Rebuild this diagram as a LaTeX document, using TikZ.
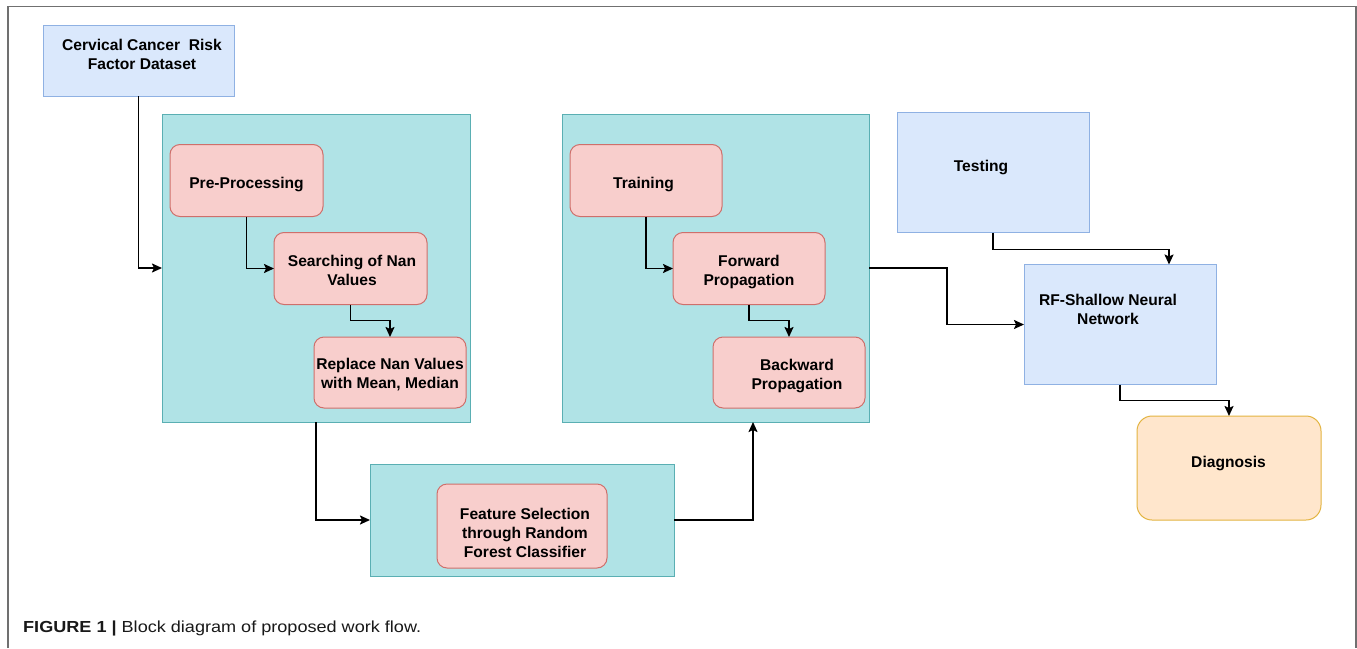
\documentclass[tikz,border=0pt]{standalone}
\usepackage{fontspec}
\setmainfont{Liberation Sans}
\newfontfamily\capfont[FakeStretch=1.13]{Liberation Sans}
\usetikzlibrary{arrows.meta}
\definecolor{bfill}{HTML}{DAE8FC}
\definecolor{bdraw}{HTML}{8FB1E3}
\definecolor{tfill}{HTML}{B0E3E6}
\definecolor{tdraw}{HTML}{5AAFB3}
\definecolor{pfill}{HTML}{F8CECC}
\definecolor{pdraw}{HTML}{CF6F6B}
\definecolor{ofill}{HTML}{FFE6CC}
\definecolor{odraw}{HTML}{E3B441}
\definecolor{framec}{HTML}{707070}
\begin{document}
\begin{tikzpicture}[x=1pt,y=-1pt,
  base/.style={inner sep=0pt, outer sep=0pt, line width=1pt, anchor=north west},
  bluebox/.style={base, draw=bdraw, fill=bfill},
  tealbox/.style={base, draw=tdraw, fill=tfill},
  pinkbox/.style={base, draw=pdraw, fill=pfill, rounded corners=10pt},
  orangebox/.style={base, draw=odraw, fill=ofill, rounded corners=15pt},
  lbl/.style={font=\bfseries\fontsize{15.6}{19}\selectfont, align=center, text=black, inner sep=0pt},
  conn/.style={draw=black, line width=1.8pt, -{Stealth[length=10pt,width=9pt,inset=2pt]}}
]
\useasboundingbox (0,0) rectangle (1357,648);
\fill[white] (0,0) rectangle (1357,648);
\draw[framec, line width=1.5pt] (8,648) -- (8,6.5) -- (1356,6.5) -- (1356,648);

% dataset
\node[bluebox, minimum width=191pt, minimum height=71pt] (data) at (43,25) {};
\node[lbl] (datat) at (142,54) {Cervical Cancer\ \ Risk\\Factor Dataset};

% block 1
\node[tealbox, minimum width=308pt, minimum height=308pt] (box1) at (162,114) {};
\node[pinkbox, minimum width=153pt, minimum height=72pt] (pre) at (170,144.5) {};
\node[lbl] (pret) at (246.5,184.5) {Pre-Processing};
\node[pinkbox, minimum width=153pt, minimum height=72pt] (search) at (274,232.5) {};
\node[lbl] (searcht) at (352,270) {Searching of Nan\\Values};
\node[pinkbox, minimum width=152pt, minimum height=71pt] (replace) at (314,337) {};
\node[lbl] (replacet) at (390,374.5) {Replace Nan Values\\with Mean, Median};

% block 2
\node[tealbox, minimum width=304pt, minimum height=112pt] (box2) at (370,464) {};
\node[pinkbox, minimum width=170pt, minimum height=84pt] (feat) at (437,484) {};
\node[lbl] (featt) at (525,533) {Feature Selection\\through Random\\Forest Classifier};

% block 3
\node[tealbox, minimum width=307pt, minimum height=308pt] (box3) at (562,114) {};
\node[pinkbox, minimum width=152pt, minimum height=72pt] (train) at (570,144.5) {};
\node[lbl] (traint) at (643.5,184.5) {Training};
\node[pinkbox, minimum width=152pt, minimum height=72pt] (fwd) at (673,232.5) {};
\node[lbl] (fwdt) at (749,271.5) {Forward\\Propagation};
\node[pinkbox, minimum width=152pt, minimum height=71pt] (bwd) at (713,337) {};
\node[lbl] (bwdt) at (797,376) {Backward\\Propagation};

% right side
\node[bluebox, minimum width=192pt, minimum height=120pt] (test) at (897,112.5) {};
\node[lbl] (testt) at (981,167) {Testing};
\node[bluebox, minimum width=192pt, minimum height=120pt] (rf) at (1024,264.5) {};
\node[lbl] (rft) at (1108,309.5) {RF-Shallow Neural\\Network};
\node[orangebox, minimum width=184pt, minimum height=104pt] (diag) at (1137,416) {};
\node[lbl] (diagt) at (1228.5,463) {Diagnosis};

% connectors
\coordinate (b3in) at (753,422);
\coordinate (rfin) at (1169,264.5);
\draw[conn] (data.south) |- (box1.west);
\draw[conn] (pre.south) |- (search.west);
\draw[conn] (search.south) -- ++(0,16) -| (replace.north);
\draw[conn] (box1.south) |- (box2.west);
\draw[conn] (box2.east) -| (b3in);
\draw[conn] (train.south) |- (fwd.west);
\draw[conn] (fwd.south) -- ++(0,16) -| (bwd.north);
\draw[conn] (box3.east) -- ++(78,0) |- (rf.west);
\draw[conn] (test.south) -- ++(0,17) -| (rfin);
\draw[conn] (rf.south) -- ++(0,16) -| (diag.north);

% caption
\node[anchor=base west, inner sep=0pt, font=\capfont\fontsize{16}{19}\selectfont, text=black!90] (cap) at (23,632.5) {\textbf{FIGURE 1 |} Block diagram of proposed work flow.};
\end{tikzpicture}
\end{document}
